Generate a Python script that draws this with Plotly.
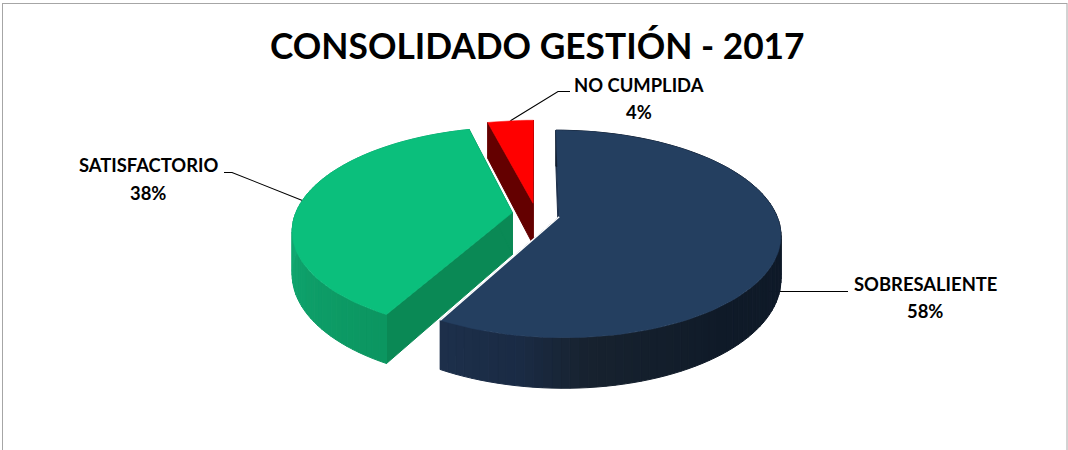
import math
import plotly.graph_objects as go

# ---- data ----
CATEGORIES = ["SOBRESALIENTE", "SATISFACTORIO", "NO CUMPLIDA"]
VALUES = [58, 38, 4]
TOP_COLORS = ["#243F60", "#0BBF7C", "#FF0000"]
RADIAL_WALL_COLORS = ["#1D304B", "#0A8955", "#640000"]
TITLE = "CONSOLIDADO GESTIÓN - 2017"

# wall shading: (degrees clockwise from 12 o'clock, colour)
WALL_STOPS = [
    [(60, "#0F1A2A"), (140, "#0F1A28"), (175, "#17222F"), (190, "#1A2B44"), (210, "#1D304B")],
    [(205, "#0B945F"), (240, "#0E9F69"), (275, "#14AC75"), (350, "#14AC75")],
    [(340, "#640000"), (360, "#640000")],
]

# label placement in page pixels
LABEL_POS = [(925, 284, 311), (148, 165, 193), (639, 85, 112)]
LEADER_ELBOWS = [[(848, 291.5)], [(232, 172.5), (224, 172.5)], [(558, 91.5), (570, 91.5)]]

# projection of the pie
CX, CY = 536.0, 214.0
RX, RY = 217.0, 100.0
PERSP = 0.165
EXPLODE = 0.11
DEPTH = 42.0


def project(u, v, z=0.0):
    s = 1.0 / (1.0 + PERSP * v)
    return CX + RX * u * s, CY - RY * v * s + DEPTH * z * s


def hex2rgb(c):
    return tuple(int(c[i:i + 2], 16) for i in (1, 3, 5))


def shade(stops, a):
    if a <= stops[0][0]:
        return stops[0][1]
    for (a0, c0), (a1, c1) in zip(stops, stops[1:]):
        if a <= a1:
            t = (a - a0) / (a1 - a0)
            r0, r1 = hex2rgb(c0), hex2rgb(c1)
            return "#%02X%02X%02X" % tuple(round(x + (y - x) * t) for x, y in zip(r0, r1))
    return stops[-1][1]


fig = go.Figure()


def poly(points, color, width=1.0):
    xs = [p[0] for p in points] + [points[0][0]]
    ys = [p[1] for p in points] + [points[0][1]]
    fig.add_trace(go.Scatter(
        x=xs, y=ys, mode="lines", fill="toself", fillcolor=color,
        line=dict(color=color, width=width), hoverinfo="skip", showlegend=False))


def stroke(points, color, width):
    fig.add_trace(go.Scatter(
        x=[p[0] for p in points], y=[p[1] for p in points], mode="lines",
        line=dict(color=color, width=width), hoverinfo="skip", showlegend=False))


total = sum(VALUES)
slices = []
start = 0.0
for i, val in enumerate(VALUES):
    sweep = 360.0 * val / total
    mid = math.radians(start + sweep / 2)
    ox, oy = EXPLODE * math.sin(mid), EXPLODE * math.cos(mid)
    slices.append((i, start, start + sweep, ox, oy))
    start += sweep


def rim(a, ox, oy):
    r = math.radians(a)
    return ox + math.sin(r), oy + math.cos(r)


# leader lines go underneath the pie
for i, a0, a1, ox, oy in slices:
    u, v = rim((a0 + a1) / 2, ox, oy)
    p0 = project(u, v)
    if i == 0:  # runs out horizontally from behind the wall
        p0 = (p0[0] - 20, LEADER_ELBOWS[i][0][1])
    stroke([p0] + LEADER_ELBOWS[i], "#000000", 1.1)

# paint from back to front: red, green, blue
for i, a0, a1, ox, oy in sorted(slices, key=lambda s: -s[0]):
    apex = (ox, oy)
    n = max(4, int((a1 - a0) / 2))
    angles = [a0 + (a1 - a0) * k / n for k in range(n + 1)]
    rim_uv = [rim(a, ox, oy) for a in angles]

    # radial walls
    for edge in (rim_uv[0], rim_uv[-1]):
        poly([project(*apex), project(*edge), project(*edge, 1), project(*apex, 1)],
             RADIAL_WALL_COLORS[i])
    # outer wall, as narrow shaded strips
    if i != 2:
        for k in range(n):
            p, q = rim_uv[k], rim_uv[k + 1]
            c = shade(WALL_STOPS[i], (angles[k] + angles[k + 1]) / 2)
            poly([project(*p), project(*q), project(*q, 1), project(*p, 1)], c)
    # top face
    poly([project(*apex)] + [project(*uv) for uv in rim_uv], TOP_COLORS[i], width=0.5)
    if i == 0:  # thin light seam along the cut edge that faces the green slice
        stroke([project(*apex), project(*rim_uv[-1])], "#FFFFFF", 1.5)

FONT = "Lato"
annotations = [dict(x=537.5, y=45, text=f"<b>{TITLE}</b>", showarrow=False, xref="x", yref="y",
                    font=dict(family=FONT, size=35.3, color="#000000"))]
for cat, val, (lx, ly1, ly2) in zip(CATEGORIES, VALUES, LABEL_POS):
    annotations.append(dict(x=lx, y=ly1, text=f"<b>{cat}</b>", showarrow=False, xref="x", yref="y",
                            font=dict(family=FONT, size=18.4, color="#000000")))
    annotations.append(dict(x=lx, y=ly2, text=f"<b>{round(100 * val / total)}%</b>", showarrow=False,
                            xref="x", yref="y", font=dict(family=FONT, size=18.4, color="#000000")))

frame = [
    dict(type="line", xref="x", yref="y", x0=2.5, x1=2.5, y0=3, y1=450, line=dict(color="#A6A6A6", width=1)),
    dict(type="line", xref="x", yref="y", x0=2, x1=1067, y0=3.5, y1=3.5, line=dict(color="#A6A6A6", width=1)),
    dict(type="line", xref="x", yref="y", x0=1067, x1=1067, y0=3, y1=450, line=dict(color="#A6A6A6", width=1)),
]

fig.update_layout(
    width=1068, height=450, autosize=False,
    margin=dict(l=0, r=0, t=0, b=0),
    paper_bgcolor="#FFFFFF", plot_bgcolor="#FFFFFF",
    showlegend=False,
    xaxis=dict(range=[0, 1068], visible=False, fixedrange=True),
    yaxis=dict(range=[450, 0], visible=False, fixedrange=True),
    annotations=annotations, shapes=frame,
)
fig.write_html(
    "out.html",
    config={"displayModeBar": False},
    post_script="document.body.style.margin='0';document.body.style.overflow='hidden';",
)
